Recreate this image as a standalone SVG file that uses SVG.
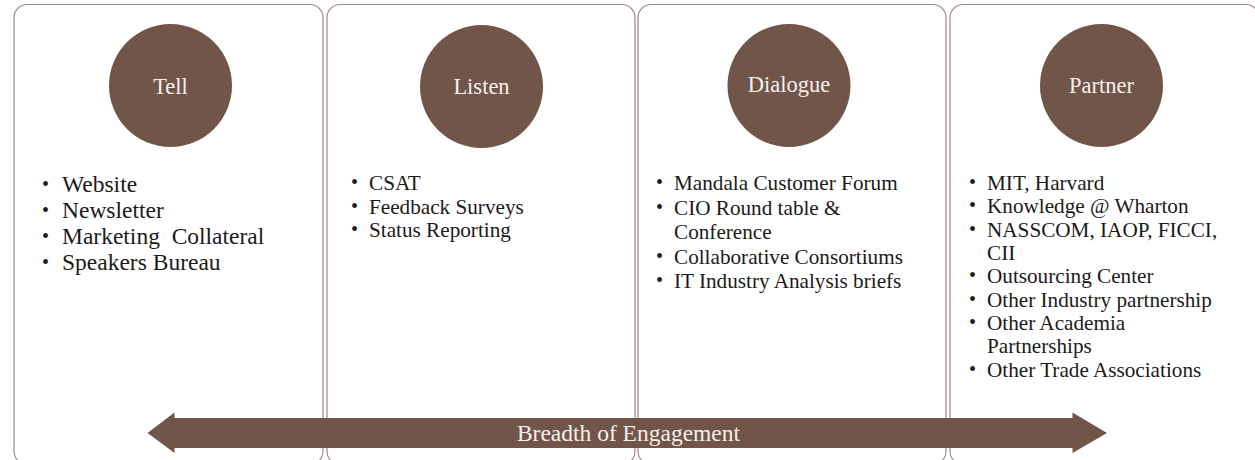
<svg xmlns="http://www.w3.org/2000/svg" width="1255" height="460" viewBox="0 0 1255 460">
<style>
.panel{fill:#ffffff;stroke:#9c8883;stroke-width:1.2}
.circ{fill:#725549}
.ctext{font-family:"Liberation Serif","Times New Roman",serif;font-size:22.5px;fill:#f4f0ee;text-anchor:middle}
.b1{font-family:"Liberation Serif","Times New Roman",serif;font-size:23.5px;fill:#1a1a1a}
.b2{font-family:"Liberation Serif","Times New Roman",serif;font-size:21.2px;fill:#1a1a1a}
.dot{font-family:"Liberation Serif","Times New Roman",serif;font-size:20px;fill:#1a1a1a}
.atext{font-family:"Liberation Serif","Times New Roman",serif;font-size:23.5px;fill:#f4f0ee;text-anchor:middle}
</style>
<rect width="1255" height="460" fill="#ffffff"/>
<g id="panel-tell">
<rect class="panel" x="14" y="4.5" width="309" height="460" rx="13"/>
<circle class="circ" cx="170.5" cy="85.5" r="61.5"/>
<text class="ctext" x="170.5" y="93.5">Tell</text>
<text class="dot" x="42" y="191">•</text><text class="b1" x="62" y="192">Website</text>
<text class="dot" x="42" y="217">•</text><text class="b1" x="62" y="218">Newsletter</text>
<text class="dot" x="42" y="243">•</text><text class="b1" x="62" y="244" xml:space="preserve">Marketing  Collateral</text>
<text class="dot" x="42" y="269">•</text><text class="b1" x="62" y="270">Speakers Bureau</text>
</g>
<g id="panel-listen">
<rect class="panel" x="327" y="4.5" width="308" height="460" rx="13"/>
<circle class="circ" cx="481.5" cy="86.5" r="61.5"/>
<text class="ctext" x="481.5" y="94">Listen</text>
<text class="dot" x="351" y="189">•</text><text class="b2" x="369" y="190">CSAT</text>
<text class="dot" x="351" y="212.5">•</text><text class="b2" x="369" y="213.5">Feedback Surveys</text>
<text class="dot" x="351" y="236">•</text><text class="b2" x="369" y="237">Status Reporting</text>
</g>
<g id="panel-dialogue">
<rect class="panel" x="638" y="4.5" width="308" height="460" rx="13"/>
<circle class="circ" cx="789" cy="85.5" r="61.5"/>
<text class="ctext" x="789" y="91.5">Dialogue</text>
<text class="dot" x="656" y="189">•</text><text class="b2" x="674" y="190">Mandala Customer Forum</text>
<text class="dot" x="656" y="213.5">•</text><text class="b2" x="674" y="214.5">CIO Round table &amp;</text>
<text class="b2" x="674" y="239">Conference</text>
<text class="dot" x="656" y="262.5">•</text><text class="b2" x="674" y="263.5">Collaborative Consortiums</text>
<text class="dot" x="656" y="287">•</text><text class="b2" x="674" y="288">IT Industry Analysis briefs</text>
</g>
<g id="panel-partner">
<rect class="panel" x="950" y="4.5" width="309" height="460" rx="13"/>
<circle class="circ" cx="1101.5" cy="85.5" r="61.5"/>
<text class="ctext" x="1101.5" y="93">Partner</text>
<text class="dot" x="969" y="189">•</text><text class="b2" x="987" y="190">MIT, Harvard</text>
<text class="dot" x="969" y="212.3">•</text><text class="b2" x="987" y="213.3">Knowledge @ Wharton</text>
<text class="dot" x="969" y="235.7">•</text><text class="b2" x="987" y="236.7">NASSCOM, IAOP, FICCI,</text>
<text class="b2" x="987" y="260">CII</text>
<text class="dot" x="969" y="282.3">•</text><text class="b2" x="987" y="283.3">Outsourcing Center</text>
<text class="dot" x="969" y="305.7">•</text><text class="b2" x="987" y="306.7">Other Industry partnership</text>
<text class="dot" x="969" y="329">•</text><text class="b2" x="987" y="330">Other Academia</text>
<text class="b2" x="987" y="353.3">Partnerships</text>
<text class="dot" x="969" y="375.7">•</text><text class="b2" x="987" y="376.7">Other Trade Associations</text>
</g>
<g id="connectors">
<polygon class="circ" points="147.5,433 174.5,412.5 174.5,418 1072.5,418 1072.5,412.5 1107,433 1072.5,453 1072.5,448 174.5,448 174.5,453"/>
<text class="atext" x="628.5" y="441">Breadth of Engagement</text>
</g>
</svg>
